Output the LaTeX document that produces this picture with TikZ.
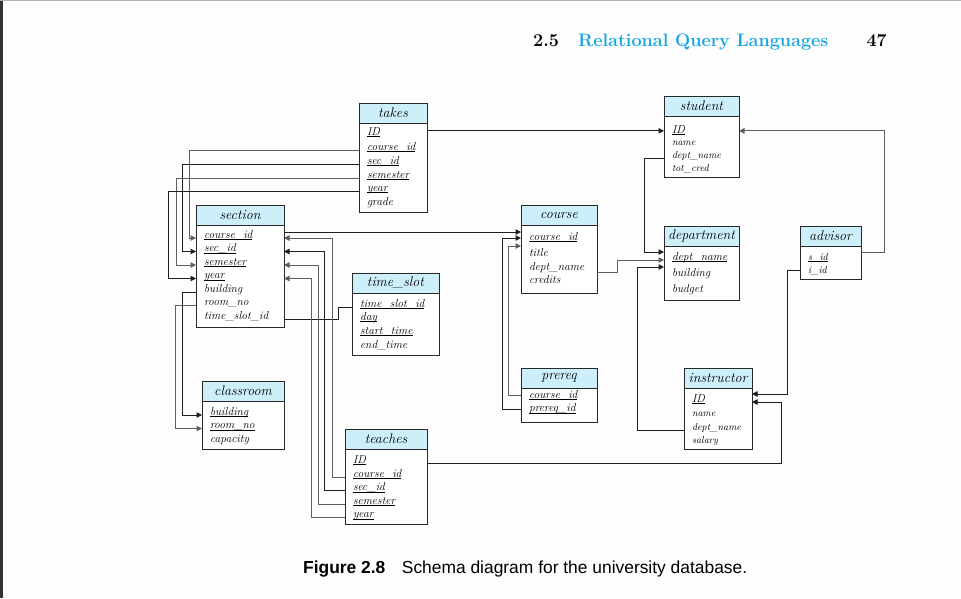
\documentclass[tikz,border=0pt]{standalone}
\usepackage{fontspec}
\usetikzlibrary{arrows.meta,calc}
\newfontfamily\capfont{Liberation Sans}
\definecolor{hdrc}{RGB}{205,239,250}
\definecolor{boxc}{RGB}{40,40,40}
\definecolor{lblk}{RGB}{30,30,30}
\definecolor{lgry}{RGB}{95,95,95}
\definecolor{cyanc}{RGB}{20,166,228}
\definecolor{barc}{RGB}{50,50,50}
\definecolor{bgc}{RGB}{253,253,253}
\newcommand{\ukey}[1]{\setbox0\hbox{#1}\rlap{\rule[-1.8pt]{\wd0}{0.55pt}}\box0}
\tikzset{
 box/.style={draw=boxc, line width=1pt, anchor=north west, inner sep=0pt, outer sep=0pt},
 hdr/.style={box, fill=hdrc, minimum height=20pt, font=\fontsize{14}{14}\selectfont\itshape},
 tbody/.style={box, fill=white},
 row/.style={anchor=base west, inner sep=0pt, outer sep=0pt, font=\fontsize{11.5}{12}\selectfont\itshape},
 srow/.style={row, font=\fontsize{10}{11}\selectfont\itshape},
 conn/.style={line width=1pt},
 blk/.style={conn, draw=lblk},
 gry/.style={conn, draw=lgry},
 arr/.style={-{Triangle[length=5.5pt,width=5.5pt]}},
}
\begin{document}
\begin{tikzpicture}[x=1pt,y=-1pt]
\useasboundingbox (0,0) rectangle (961,598);
\fill[bgc] (0,0) rectangle (961,598);
\fill[barc] (0,0) rectangle (2.5,598);
\draw[gray!60, line width=1pt] (0,0.5) -- (961,0.5);

% page header
\node[anchor=base west, inner sep=0pt, font=\fontsize{18}{18}\selectfont\bfseries] (secnum) at (533,46) {2.5};
\node[anchor=base west, inner sep=0pt, text=cyanc, font=\fontsize{18}{18}\selectfont\bfseries] (sectitle) at (578,46) {Relational Query Languages};
\node[anchor=base east, inner sep=0pt, font=\fontsize{18}{18}\selectfont\bfseries] (pagenum) at (887,46) {47};

% takes
\node[hdr, minimum width=68pt] (takesh) at (359,103) {takes};
\node[tbody, minimum width=68pt, minimum height=89pt] (takesb) at (359,123) {};
\node[row] (tk1) at (367,135) {\ukey{ID}};
\node[row] (tk2) at (367,150) {\ukey{course\_id}};
\node[row] (tk3) at (367,164) {\ukey{sec\_id}};
\node[row] (tk4) at (367,178) {\ukey{semester}};
\node[row] (tk5) at (367,191) {\ukey{year}};
\node[row] (tk6) at (367,205) {grade};

% student
\node[hdr, minimum width=75pt] (sth) at (664,96) {student};
\node[tbody, minimum width=75pt, minimum height=61pt] (stb) at (664,116) {};
\node[row] (st1) at (672,133) {\ukey{ID}};
\node[srow] (st2) at (672,145) {name};
\node[srow] (st3) at (672,158) {dept\_name};
\node[srow] (st4) at (672,171) {tot\_cred};

% section
\node[hdr, minimum width=88pt] (sech) at (196,205) {section};
\node[tbody, minimum width=88pt, minimum height=102pt] (secb) at (196,225) {};
\node[row] (se1) at (204,238) {\ukey{course\_id}};
\node[row] (se2) at (204,251.5) {\ukey{sec\_id}};
\node[row] (se3) at (204,265) {\ukey{semester}};
\node[row] (se4) at (204,278.5) {\ukey{year}};
\node[row] (se5) at (204,292) {building};
\node[row] (se6) at (204,305.5) {room\_no};
\node[row] (se7) at (204,319) {time\_slot\_id};

% course
\node[hdr, minimum width=76pt] (ch) at (521,205) {course};
\node[tbody, minimum width=76pt, minimum height=68pt] (cb) at (521,225) {};
\node[row] (cr1) at (529,240) {\ukey{course\_id}};
\node[row] (cr2) at (529,256) {title};
\node[row] (cr3) at (529,270) {dept\_name};
\node[row] (cr4) at (529,283) {credits};

% department
\node[hdr, minimum width=75pt] (dh) at (664,226) {department};
\node[tbody, minimum width=75pt, minimum height=54pt] (db) at (664,246) {};
\node[row] (dp1) at (672,260) {\ukey{dept\_name}};
\node[row] (dp2) at (672,276) {building};
\node[row] (dp3) at (672,292) {budget};

% advisor
\node[hdr, minimum width=61pt] (adh) at (800,226) {advisor};
\node[tbody, minimum width=61pt, minimum height=33pt] (adb) at (800,246) {};
\node[srow] (ad1) at (808,260) {\ukey{s\_id}};
\node[srow] (ad2) at (808,273) {i\_id};

% time_slot
\node[hdr, minimum width=87pt] (tsh) at (352,273) {time\_slot};
\node[tbody, minimum width=87pt, minimum height=62pt] (tsb) at (352,293) {};
\node[row] (ts1) at (360,307) {\ukey{time\_slot\_id}};
\node[row] (ts2) at (360,320) {\ukey{day}};
\node[row] (ts3) at (360,334) {\ukey{start\_time}};
\node[row] (ts4) at (360,348) {end\_time};

% prereq
\node[hdr, minimum width=76pt] (pqh) at (521,368) {prereq};
\node[tbody, minimum width=76pt, minimum height=34pt] (pqb) at (521,388) {};
\node[row] (pq1) at (529,398) {\ukey{course\_id}};
\node[row] (pq2) at (529,411.5) {\ukey{prereq\_id}};

% instructor
\node[hdr, minimum width=68pt] (inh) at (684,368) {instructor};
\node[tbody, minimum width=68pt, minimum height=61pt] (inb) at (684,388) {};
\node[row] (in1) at (692,402) {\ukey{ID}};
\node[srow] (in2) at (692,416) {name};
\node[srow] (in3) at (692,430) {dept\_name};
\node[srow] (in4) at (692,443) {salary};

% classroom
\node[hdr, minimum width=82pt] (clh) at (202,381) {classroom};
\node[tbody, minimum width=82pt, minimum height=48pt] (clb) at (202,401) {};
\node[row] (cl1) at (210,415) {\ukey{building}};
\node[row] (cl2) at (210,428.5) {\ukey{room\_no}};
\node[row] (cl3) at (210,442) {capacity};

% teaches
\node[hdr, minimum width=82pt] (teh) at (345,429) {teaches};
\node[tbody, minimum width=82pt, minimum height=75pt] (teb) at (345,449) {};
\node[row] (te1) at (353,463) {\ukey{ID}};
\node[row] (te2) at (353,477) {\ukey{course\_id}};
\node[row] (te3) at (353,490.5) {\ukey{sec\_id}};
\node[row] (te4) at (353,504) {\ukey{semester}};
\node[row] (te5) at (353,517.5) {\ukey{year}};

% connectors
\draw[blk,arr] (takesb.east |- st1.mid) -- (stb.west |- st1.mid);
\draw[gry,arr] (takesb.west |- tk2.base) -- ++(-170,0) |- (secb.west |- se1.base);
\draw[blk,arr] (takesb.west |- tk3.base) -- ++(-177,0) |- (secb.west |- se2.base);
\draw[gry,arr] (takesb.west |- tk4.base) -- ++(-183,0) |- (secb.west |- se3.base);
\draw[blk,arr] (takesb.west |- tk5.base) -- ++(-191,0) |- (secb.west |- se4.base);

\draw[blk,arr] (secb.west |- se5.base) -- ++(-14,0) |- (clb.west |- cl1.base);
\draw[gry,arr] (secb.west |- se6.base) -- ++(-21,0) |- (clb.west |- cl2.base);

\draw[blk] (secb.east |- se7.base) -- ++(54,0) |- (tsb.west |- ts1.base);

\draw[blk,arr] ($(secb.north east)+(0,7)$) coordinate (sc) -- (cb.west |- sc);
\draw[gry,arr] (pqb.west |- pq1.mid) -- ++(-13,0) |- ($(cb.north west)+(0,21)$);
\draw[blk,arr] (pqb.west |- pq2.mid) -- ++(-19,0) |- ($(cb.north west)+(0,13)$);

\draw[gry,arr] (teb.west |- te2.base) -- ++(-13,0) |- (secb.east |- se1.base);
\draw[blk,arr] (teb.west |- te3.base) -- ++(-21,0) |- (secb.east |- se2.base);
\draw[gry,arr] (teb.west |- te4.base) -- ++(-27,0) |- (secb.east |- se3.base);
\draw[gry,arr] (teb.west |- te5.base) -- ++(-34,0) |- (secb.east |- se4.base);

\draw[blk,arr] (teb.east |- te1.base) -- ++(354,0) |- (inb.east |- in1.base);
\draw[blk,arr] (adb.west |- ad2.mid) -- ++(-13,0) |- ($(inb.east |- in1.base)+(0,-8)$);
\draw[gry,arr] ($(adb.north east)+(0,6)$) -- ++(23,0) |- (stb.east |- st1.mid);
\draw[blk,arr] (stb.west |- st3.base) -- ++(-20,0) |- ($(db.north west)+(0,6)$);
\draw[gry,arr] ($(cb.east |- cr3.base)+(0,2)$) -- ++(20,0) |- (db.west |- dp1.base);
\draw[blk,arr] (inb.west |- in3.base) -- ++(-47,0) |- ($(db.west |- dp1.base)+(0,7)$);

% caption
\node[anchor=base west, inner sep=0pt, font=\capfont\fontsize{17.4}{18}\selectfont] (cap) at (303,573) {\textbf{Figure 2.8}\hspace{0.95em}Schema diagram for the university database.};
\end{tikzpicture}
\end{document}
